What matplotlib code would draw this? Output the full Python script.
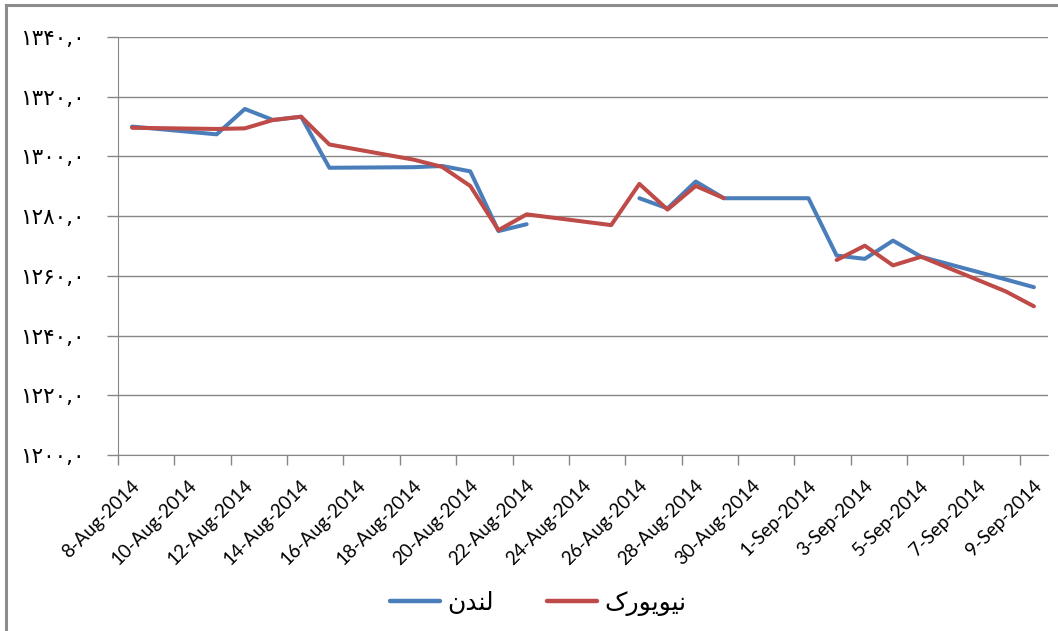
import pandas as pd
import numpy as np
import matplotlib
matplotlib.use("Agg")
import matplotlib.pyplot as plt
from matplotlib.transforms import ScaledTranslation
from matplotlib.lines import Line2D

# trading days (weekends are simply not in the data, holidays are NaN)
dates = ["2014-08-08", "2014-08-11", "2014-08-12", "2014-08-13", "2014-08-14", "2014-08-15",
         "2014-08-18", "2014-08-19", "2014-08-20", "2014-08-21", "2014-08-22",
         "2014-08-25", "2014-08-26", "2014-08-27", "2014-08-28", "2014-08-29",
         "2014-09-01", "2014-09-02", "2014-09-03", "2014-09-04", "2014-09-05",
         "2014-09-08", "2014-09-09"]

london = [1310.0, 1307.4, 1315.9, 1312.2, 1313.3, 1296.2,
          1296.4, 1296.8, 1295.0, 1275.0, 1277.3,
          np.nan, 1286.0, 1282.6, 1291.6, 1286.0,
          1286.0, 1266.8, 1265.7, 1271.8, 1266.4,
          1258.8, 1256.2]

newyork = [1309.6, 1309.2, 1309.4, 1312.2, 1313.3, 1304.0,
           1298.9, 1296.5, 1290.1, 1275.3, 1280.6,
           1277.0, 1290.8, 1282.2, 1290.1, 1286.0,
           np.nan, 1265.3, 1270.1, 1263.5, 1266.4,
           1254.8, 1249.8]

# legend labels, shaped by hand (presentation forms in visual order)
label_london = "\uFEE5\uFEAA\uFEE8\uFEDF"                      # لندن
label_newyork = "\uFB8E\uFEAD\uFEEE\uFBFE\uFEEE\uFBFF\uFEE7"    # نیویورک

y_ticks = [1200, 1220, 1240, 1260, 1280, 1300, 1320, 1340]

blue = "#4A7EBB"
red = "#BE4B48"
grid_gray = "#868686"

fa_digits = str.maketrans("0123456789", "۰۱۲۳۴۵۶۷۸۹")


def fa_label(v):
    return f"{v:.1f}".replace(".", ",").translate(fa_digits)


# Excel date axis: each day's point sits in the middle of its day slot
x = pd.to_datetime(dates) + pd.Timedelta(hours=12)

fig = plt.figure(figsize=(10.58, 6.31), dpi=100)
ax = fig.add_axes([118 / 1058, 1 - 455 / 631, (1048 - 118) / 1058, (455 - 37) / 631])

ax.plot(x, london, color=blue, lw=2.9, solid_joinstyle="round", solid_capstyle="round", zorder=3)
ax.plot(x, newyork, color=red, lw=2.9, solid_joinstyle="round", solid_capstyle="round", zorder=4)

ax.set_xlim(pd.Timestamp("2014-08-08"), pd.Timestamp("2014-09-10"))
ax.set_ylim(1200, 1340)

ax.set_yticks(y_ticks)
ax.set_yticklabels([fa_label(v) for v in y_ticks], fontsize=15.5, family="DejaVu Sans")
ax.yaxis.grid(True, color=grid_gray, lw=1.0)
ax.set_axisbelow(True)

# x labels drawn as text so they can sit below-right of the ticks like Excel does
xticks = pd.date_range("2014-08-08", "2014-09-09", freq="2D")
ax.set_xticks(xticks)
ax.set_xticklabels([])
offset = ScaledTranslation(0.19, -0.28, fig.dpi_scale_trans)
for d in xticks:
    ax.text(d, 0, f"{d.day}-{d:%b-%Y}", transform=ax.get_xaxis_transform() + offset,
            rotation=45, ha="right", va="center", rotation_mode="anchor",
            fontsize=13.5, family="Lato", clip_on=False)

ax.tick_params(axis="x", length=7, width=1, color=grid_gray, pad=0)
ax.tick_params(axis="y", length=8, width=1, color=grid_gray, pad=16)

for side in ["top", "right"]:
    ax.spines[side].set_visible(False)
ax.spines["left"].set_color(grid_gray)
ax.spines["bottom"].set_color(grid_gray)

handles = [Line2D([], [], color=blue, lw=3.2, solid_capstyle="round"),
           Line2D([], [], color=red, lw=3.2, solid_capstyle="round")]
fig.legend(handles, [label_london, label_newyork], loc="center",
           bbox_to_anchor=(538 / 1058, 1 - 603 / 631), ncol=2, frameon=False,
           prop={"family": "DejaVu Sans", "size": 18},
           handlelength=2.0, handletextpad=0.3, columnspacing=2.1)

# chart area border (cropped on the right and bottom)
fig.add_artist(Line2D([6 / 1058, 6 / 1058], [0, 1 - 5 / 631], transform=fig.transFigure,
                      color="#8c8c8c", lw=2.2))
fig.add_artist(Line2D([6 / 1058, 1], [1 - 5 / 631, 1 - 5 / 631], transform=fig.transFigure,
                      color="#8c8c8c", lw=2.2))

plt.savefig("out.png", dpi=100)
